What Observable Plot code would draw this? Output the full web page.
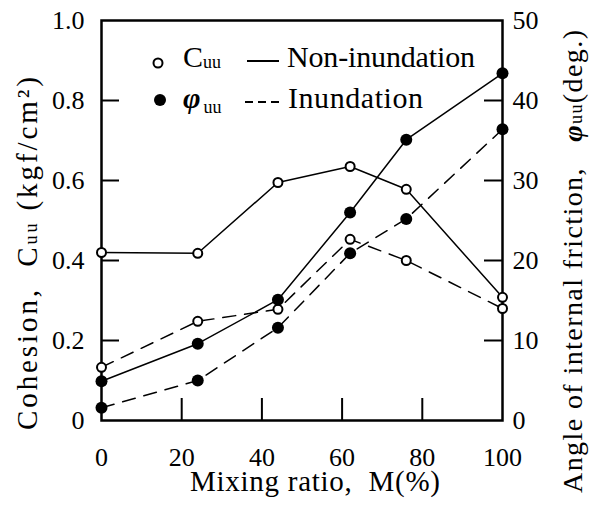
<!DOCTYPE html>
<html><head><meta charset="utf-8">
<script src="https://cdn.jsdelivr.net/npm/d3@7"></script>
<script src="https://cdn.jsdelivr.net/npm/@observablehq/plot@0.6"></script>
<style>body{margin:0;background:#fff} #chart{width:593px;height:508px}
#chart svg, #chart svg text, #chart svg tspan{font-family:"Liberation Serif","Tinos","DejaVu Serif","Times New Roman",serif !important}</style>
</head><body><div id="chart"></div>
<script>
// ---- data ----
const mixingRatio = [0, 24, 44, 62, 76, 100];                 // M (%)
const cohesionNonInundation = [0.42, 0.418, 0.595, 0.635, 0.578, 0.308]; // Cuu kgf/cm2
const cohesionInundation    = [0.133, 0.248, 0.278, 0.453, 0.40, 0.28];
const frictionNonInundation = [4.9, 9.6, 15.1, 26.0, 35.1, 43.4];        // phi_uu deg.
const frictionInundation    = [1.6, 5.0, 11.6, 20.9, 25.2, 36.4];
const xTickValues = [0, 20, 40, 60, 80, 100];
const cohesionTickValues = [0, 0.2, 0.4, 0.6, 0.8, 1.0];
const frictionTickValues = [0, 10, 20, 30, 40, 50];

const RATIO = 50; // right axis (deg.) per left axis unit (kgf/cm2)
const FONT = "\"Liberation Serif\", \"Tinos\", \"DejaVu Serif\", serif";
const series = (vals, k) => mixingRatio.map((m, i) => ({m, v: vals[i] / k}));
const cNon = series(cohesionNonInundation, 1);
const cInu = series(cohesionInundation, 1);
const fNon = series(frictionNonInundation, RATIO);
const fInu = series(frictionInundation, RATIO);

const DASH = "13,9";
const chart = Plot.plot({
  width: 593, height: 508,
  marginLeft: 101, marginRight: 91, marginTop: 20, marginBottom: 88,
  x: {domain: [0, 100]},
  y: {domain: [0, 1]},
  style: {fontFamily: FONT, fontSize: "26px", color: "#000", background: "#fff", overflow: "visible"},
  marks: [
    Plot.axisX({ticks: xTickValues, tickSize: 0, tickPadding: 27, label: null, fontSize: 26}),
    Plot.axisY({anchor: "left", ticks: cohesionTickValues, tickSize: 0, tickPadding: 17, label: null, fontSize: 26,
      tickFormat: d => d === 0 ? "0" : d.toFixed(1)}),
    Plot.axisY({anchor: "right", ticks: frictionTickValues.map(d => d / RATIO), tickSize: 0, tickPadding: 10, label: null, fontSize: 26,
      tickFormat: d => String(Math.round(d * RATIO))}),
    Plot.ruleX(xTickValues.slice(1, -1), {insetTop: 378, stroke: "#000", strokeWidth: 2}),
    Plot.ruleY(cohesionTickValues.slice(1, -1), {insetRight: 383, stroke: "#000", strokeWidth: 2}),
    Plot.ruleY(frictionTickValues.slice(1, -1).map(d => d / RATIO), {insetLeft: 383, stroke: "#000", strokeWidth: 2}),
    Plot.frame({stroke: "#000", strokeWidth: 2.5}),
    Plot.line(cNon, {x: "m", y: "v", stroke: "#000", strokeWidth: 1.5}),
    Plot.line(fNon, {x: "m", y: "v", stroke: "#000", strokeWidth: 1.5}),
    Plot.line(cInu, {x: "m", y: "v", stroke: "#000", strokeWidth: 1.5, strokeDasharray: DASH}),
    Plot.line(fInu, {x: "m", y: "v", stroke: "#000", strokeWidth: 1.5, strokeDasharray: DASH}),
    Plot.dot(cNon, {x: "m", y: "v", r: 4.5, fill: "#fff", stroke: "#000", strokeWidth: 2}),
    Plot.dot(cInu, {x: "m", y: "v", r: 4.5, fill: "#fff", stroke: "#000", strokeWidth: 2}),
    Plot.dot(fNon, {x: "m", y: "v", r: 6, fill: "#000", stroke: "none"}),
    Plot.dot(fInu, {x: "m", y: "v", r: 6, fill: "#000", stroke: "none"})
  ]
});
document.getElementById("chart").appendChild(chart);

// ---- titles and legend ----
const svg = d3.select(chart);
const g = svg.append("g").attr("font-family", FONT).attr("fill", "#000").attr("text-anchor", "start");

g.append("text").attr("x", 190).attr("y", 491).attr("font-size", 29)
  .attr("textLength", 250).attr("lengthAdjust", "spacing")
  .text("Mixing ratio,\u00A0 M(%)");

const lt = g.append("text").attr("transform", "translate(37,430) rotate(-90)").attr("font-size", 29)
  .attr("textLength", 353).attr("lengthAdjust", "spacing");
lt.append("tspan").text("Cohesion,\u00A0 C");
lt.append("tspan").attr("font-size", 18).text("uu");
lt.append("tspan").text("\u00A0(kgf/cm²)");

const rt = g.append("text").attr("transform", "translate(582,493) rotate(-90)").attr("font-size", 28)
  .attr("textLength", 463).attr("lengthAdjust", "spacing");
rt.append("tspan").text("Angle of internal friction,\u00A0\u00A0 ");
rt.append("tspan").attr("font-weight", "bold").attr("font-style", "italic").text("φ");
rt.append("tspan").attr("font-size", 18).text("uu");
rt.append("tspan").text("(deg.)");

// legend row 1
g.append("circle").attr("cx", 158).attr("cy", 63).attr("r", 4.5).attr("fill", "#fff").attr("stroke", "#000").attr("stroke-width", 2);
const l1 = g.append("text").attr("x", 183).attr("y", 67).attr("font-size", 30);
l1.append("tspan").text("C");
l1.append("tspan").attr("font-size", 18).attr("dy", 1).text("uu");
g.append("line").attr("x1", 247).attr("x2", 279).attr("y1", 61).attr("y2", 61).attr("stroke", "#000").attr("stroke-width", 2);
g.append("text").attr("x", 287).attr("y", 67).attr("font-size", 30).attr("textLength", 188).attr("lengthAdjust", "spacing").text("Non-inundation");

// legend row 2
g.append("circle").attr("cx", 160).attr("cy", 100).attr("r", 6).attr("fill", "#000");
const l2 = g.append("text").attr("x", 183).attr("y", 108).attr("font-size", 30);
l2.append("tspan").attr("font-weight", "bold").attr("font-style", "italic").text("φ");
l2.append("tspan").attr("font-size", 18).attr("dx", 3).attr("dy", 5).text("uu");
g.append("line").attr("x1", 245).attr("x2", 279).attr("y1", 102).attr("y2", 102).attr("stroke", "#000").attr("stroke-width", 2).attr("stroke-dasharray", "8,5");
g.append("text").attr("x", 288).attr("y", 108).attr("font-size", 30).attr("textLength", 135).attr("lengthAdjust", "spacing").text("Inundation");
</script>
</body></html>
